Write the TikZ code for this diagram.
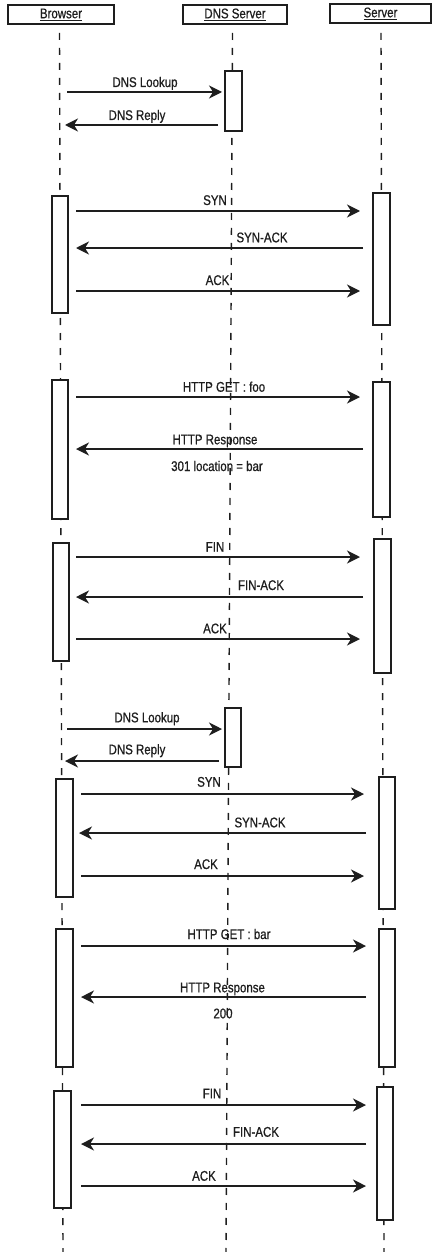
\documentclass[tikz,border=0pt]{standalone}
\usepackage{fontspec}
\setmainfont{Liberation Sans}[FakeStretch=0.82,FakeBold=0.8]
\usetikzlibrary{arrows.meta}
\definecolor{ink}{HTML}{1E1E1E}
\tikzset{
  lbl/.style={font=\fontsize{14}{15}\selectfont, text=ink, anchor=base, inner sep=0pt},
  hdr/.style={draw=ink, line width=1.6pt, fill=white, inner sep=0pt, minimum height=19pt,
              font=\fontsize{14}{15}\selectfont, text=ink},
  act/.style={draw=ink, line width=1.6pt, fill=white, inner sep=0pt},
  life/.style={draw=ink, line width=1.4pt, dash pattern=on 7pt off 8pt},
  msg/.style={draw=ink, line width=1.5pt, -{Stealth[length=13pt,width=13pt,inset=4pt]}},
}
\begin{document}
\begin{tikzpicture}[x=1pt,y=-1pt]
\useasboundingbox (0,0) rectangle (432,1252);
% headers
\node[hdr, minimum width=106pt] (hB) at (61,14.5) {\underline{Browser}};
\node[hdr, minimum width=104pt] (hD) at (235,14.5) {\underline{DNS Server}};
\node[hdr, minimum width=101pt] (hS) at (380.5,13.5) {\underline{Server}};
% lifelines
\coordinate (lBe) at (63,1252);
\coordinate (lDe) at (226,1252);
\coordinate (lSe) at (384,1252);
\draw[life] (59.5,33) -- (lBe);
\draw[life] (232.5,33) -- (lDe);
\draw[life] (381,33) -- (lSe);
% activation boxes
\node[act, minimum width=17pt, minimum height=60pt]  (D1) at (233.5,101) {};
\node[act, minimum width=16pt, minimum height=117pt] (B1) at (60,254.5) {};
\node[act, minimum width=17pt, minimum height=132pt] (S1) at (381.5,259) {};
\node[act, minimum width=16pt, minimum height=139pt] (B2) at (60,449.5) {};
\node[act, minimum width=17pt, minimum height=135pt] (S2) at (381.5,449.5) {};
\node[act, minimum width=16pt, minimum height=118pt] (B3) at (61,602) {};
\node[act, minimum width=17pt, minimum height=134pt] (S3) at (382.5,606) {};
\node[act, minimum width=16pt, minimum height=59pt]  (D2) at (233,737.5) {};
\node[act, minimum width=17pt, minimum height=118pt] (B4) at (64.5,838) {};
\node[act, minimum width=16pt, minimum height=132pt] (S4) at (387,843) {};
\node[act, minimum width=17pt, minimum height=138pt] (B5) at (64.5,998) {};
\node[act, minimum width=16pt, minimum height=138pt] (S5) at (387,998) {};
\node[act, minimum width=17pt, minimum height=117pt] (B6) at (62.5,1149.5) {};
\node[act, minimum width=16pt, minimum height=133pt] (S6) at (385,1153.5) {};
% message end points
\coordinate (m1a) at (67,92);     \coordinate (m1b) at (222,92);
\coordinate (m2a) at (218,125);   \coordinate (m2b) at (65,125);
\coordinate (m3a) at (76,211);    \coordinate (m3b) at (360,211);
\coordinate (m4a) at (363,248);   \coordinate (m4b) at (76,248);
\coordinate (m5a) at (76,291);    \coordinate (m5b) at (360,291);
\coordinate (m6a) at (76,397);    \coordinate (m6b) at (360,397);
\coordinate (m7a) at (363,449);   \coordinate (m7b) at (76,449);
\coordinate (m8a) at (76,557);    \coordinate (m8b) at (360,557);
\coordinate (m9a) at (363,597);   \coordinate (m9b) at (76,597);
\coordinate (m10a) at (76,639);   \coordinate (m10b) at (360,639);
\coordinate (m11a) at (67,729);   \coordinate (m11b) at (222,729);
\coordinate (m12a) at (219,761);  \coordinate (m12b) at (65,761);
\coordinate (m13a) at (81,794);   \coordinate (m13b) at (364,794);
\coordinate (m14a) at (366,833);  \coordinate (m14b) at (79,833);
\coordinate (m15a) at (81,876);   \coordinate (m15b) at (364,876);
\coordinate (m16a) at (81,946);   \coordinate (m16b) at (366,946);
\coordinate (m17a) at (366,997);  \coordinate (m17b) at (81,997);
\coordinate (m18a) at (81,1105);  \coordinate (m18b) at (366,1105);
\coordinate (m19a) at (366,1144); \coordinate (m19b) at (81,1144);
\coordinate (m20a) at (81,1186);  \coordinate (m20b) at (366,1186);
% messages
\draw[msg] (m1a) -- (m1b);   \node[lbl] (t1) at (145,87) {DNS Lookup};
\draw[msg] (m2a) -- (m2b);   \node[lbl] (t2) at (137,120) {DNS Reply};
\draw[msg] (m3a) -- (m3b);   \node[lbl] (t3) at (215,205) {SYN};
\draw[msg] (m4a) -- (m4b);   \node[lbl] (t4) at (262,242.3) {SYN-ACK};
\draw[msg] (m5a) -- (m5b);   \node[lbl] (t5) at (217.5,285) {ACK};
\draw[msg] (m6a) -- (m6b);   \node[lbl] (t6) at (224,391.7) {HTTP GET : foo};
\draw[msg] (m7a) -- (m7b);   \node[lbl] (t7) at (215,444.3) {HTTP Response};
                             \node[lbl] (t7b) at (217,471) {301 location = bar};
\draw[msg] (m8a) -- (m8b);   \node[lbl] (t8) at (215,551.7) {FIN};
\draw[msg] (m9a) -- (m9b);   \node[lbl] (t9) at (261,590) {FIN-ACK};
\draw[msg] (m10a) -- (m10b); \node[lbl] (t10) at (215,633.3) {ACK};
\draw[msg] (m11a) -- (m11b); \node[lbl] (t11) at (147,722.3) {DNS Lookup};
\draw[msg] (m12a) -- (m12b); \node[lbl] (t12) at (137,754.3) {DNS Reply};
\draw[msg] (m13a) -- (m13b); \node[lbl] (t13) at (209,786.7) {SYN};
\draw[msg] (m14a) -- (m14b); \node[lbl] (t14) at (260,827.3) {SYN-ACK};
\draw[msg] (m15a) -- (m15b); \node[lbl] (t15) at (206,869) {ACK};
\draw[msg] (m16a) -- (m16b); \node[lbl] (t16) at (229,939) {HTTP GET : bar};
\draw[msg] (m17a) -- (m17b); \node[lbl] (t17) at (222.5,992.3) {HTTP Response};
                             \node[lbl] (t17b) at (223,1018.3) {200};
\draw[msg] (m18a) -- (m18b); \node[lbl] (t18) at (212,1098.3) {FIN};
\draw[msg] (m19a) -- (m19b); \node[lbl] (t19) at (256,1136.7) {FIN-ACK};
\draw[msg] (m20a) -- (m20b); \node[lbl] (t20) at (204,1180.7) {ACK};
\end{tikzpicture}
\end{document}
